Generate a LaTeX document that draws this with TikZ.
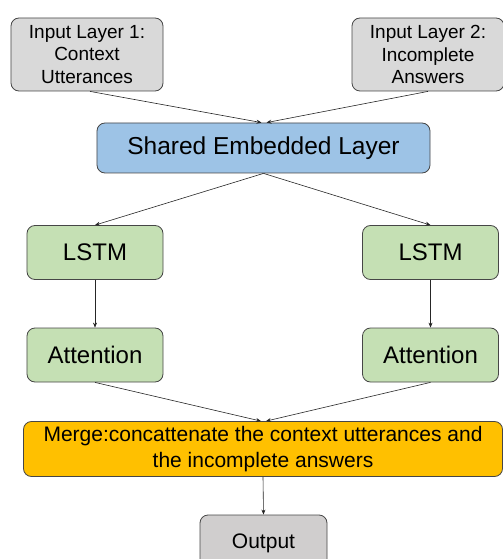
\documentclass[tikz,border=0pt]{standalone}
\usepackage{fontspec}
\setmainfont{Liberation Sans}
\usepackage{tikz}
\usetikzlibrary{arrows.meta,positioning}
\definecolor{inputgray}{RGB}{217,217,217}
\definecolor{outgray}{RGB}{208,206,206}
\definecolor{sharedblue}{RGB}{157,195,230}
\definecolor{lstmgreen}{RGB}{197,224,180}
\definecolor{mergeorange}{RGB}{255,192,0}
\definecolor{edgegray}{RGB}{70,70,70}

\begin{document}
\begin{tikzpicture}[x=1bp, y=-1bp,
  block/.style={rectangle, draw=edgegray, line width=0.8bp, rounded corners=8bp, inner sep=0pt, align=center, text=black},
  inputbox/.style={block, fill=inputgray, minimum width=152bp, minimum height=73bp, font=\fontsize{19bp}{22.5bp}\selectfont},
  sharedbox/.style={block, fill=sharedblue, minimum width=333bp, minimum height=50bp, font=\fontsize{24.5bp}{28bp}\selectfont},
  lstmbox/.style={block, fill=lstmgreen, minimum width=136bp, minimum height=54bp, font=\fontsize{24bp}{28bp}\selectfont},
  mergebox/.style={block, fill=mergeorange, minimum width=479bp, minimum height=55bp, font=\fontsize{21bp}{26bp}\selectfont},
  outbox/.style={block, fill=outgray, minimum width=127bp, minimum height=56bp, font=\fontsize{21bp}{25bp}\selectfont},
  flow/.style={-{Stealth[length=5bp,width=4bp]}, line width=0.6bp, black!85}
]
  \useasboundingbox (0,0) rectangle (503,559);
  \clip (0,0) rectangle (503,559);

  \node[inputbox] (in1) at (87,54.5) {Input Layer 1:\\Context\\Utterances};
  \node[inputbox] (in2) at (428,54.5) {Input Layer 2:\\Incomplete\\Answers};
  \node[sharedbox] (shared) at (263.5,148) {Shared Embedded Layer};

  \node[lstmbox] (lstm1) at (95,252.5) {LSTM};
  \node[lstmbox] (lstm2) at (430.5,252.5) {LSTM};
  \node[lstmbox] (att1) at (95,355) {Attention};
  \node[lstmbox] (att2) at (430.5,355) {Attention};

  \node[mergebox] (merge) at (263,449) {Merge:concattenate the context utterances and\\the incomplete answers};
  \node[outbox] (out) at (263.5,543) {Output};

  % inputs into the shared embedding
  \draw[flow] ([xshift=3bp]in1.south) -- ([xshift=-2bp]shared.north);
  \draw[flow] (in2.south) -- ([xshift=3bp]shared.north);

  % two branches
  \draw[flow] (shared.south) -- (lstm1.north);
  \draw[flow] (shared.south) -- (lstm2.north);
  \foreach \n in {1,2} {
    \draw[flow] (lstm\n.south) -- (att\n.south |- att\n.north);
  }

  % merge and output
  \draw[flow] (att1.south) -- ([xshift=-2bp]merge.north);
  \draw[flow] (att2.south) -- ([xshift=3bp]merge.north);
  \draw[flow] (merge.south) -- (out.north);
\end{tikzpicture}
\end{document}
